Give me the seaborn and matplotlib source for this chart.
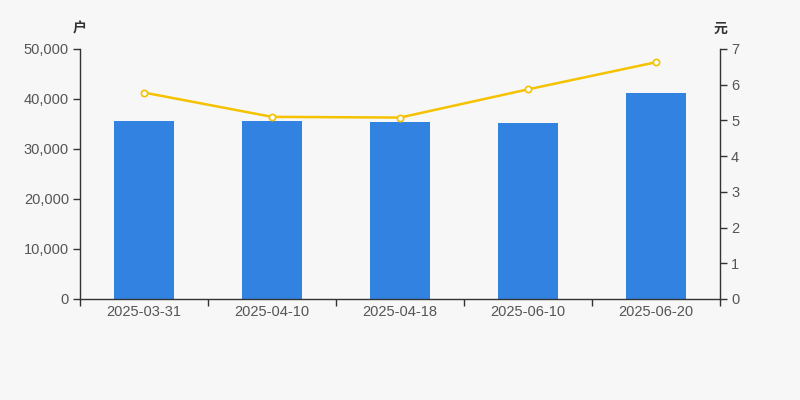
import matplotlib
matplotlib.use("Agg")
import matplotlib.pyplot as plt
from matplotlib.ticker import FixedLocator, NullFormatter, FuncFormatter, MultipleLocator
import seaborn as sns
import pandas as pd

dates = ["2025-03-31", "2025-04-10", "2025-04-18", "2025-06-10", "2025-06-20"]
holders = [35650, 35550, 35350, 35150, 41250]
price = [5.78, 5.10, 5.08, 5.87, 6.63]

bg = "#f7f7f7"
bar_color = "#3282e2"
line_color = "#f5c200"
axis_color = "#333333"
text_color = "#555555"

sns.set_theme(style="white")
plt.rcParams["font.family"] = ["Liberation Sans", "Noto Sans CJK SC", "DejaVu Sans"]

df = pd.DataFrame({"date": dates, "holders": holders, "price": price})

fig = plt.figure(figsize=(8, 4), dpi=100, facecolor=bg)
ax = fig.add_axes([0.1, 0.2525, 0.8, 0.625])
ax.set_facecolor(bg)

sns.barplot(data=df, x="date", y="holders", color=bar_color, width=60 / 128,
            saturation=1, linewidth=0, ax=ax)
ax.set_xlim(-0.5, len(dates) - 0.5)
ax.set_ylim(0, 50000)
ax.yaxis.set_major_locator(MultipleLocator(10000))
ax.yaxis.set_major_formatter(FuncFormatter(lambda v, p: f"{int(v):,}"))
ax.set_xlabel("")
ax.set_ylabel("")

ax2 = ax.twinx()
ax2.set_facecolor("none")
sns.lineplot(data=df, x="date", y="price", color=line_color, linewidth=1.8,
             marker="o", markersize=4.5, markerfacecolor="white",
             markeredgecolor=line_color, markeredgewidth=1.2, sort=False, ax=ax2)
ax2.set_ylim(0, 7)
ax2.yaxis.set_major_locator(MultipleLocator(1))
ax2.set_ylabel("")
ax2.set_xlabel("")
ax2.set_xlim(-0.5, len(dates) - 0.5)

# x ticks at category boundaries, labels at centres
ax.xaxis.set_major_locator(FixedLocator([i - 0.5 for i in range(len(dates) + 1)]))
ax.xaxis.set_major_formatter(NullFormatter())
ax.xaxis.set_minor_locator(FixedLocator(list(range(len(dates)))))
ax.set_xticklabels(dates, minor=True)
ax.tick_params(axis="x", which="major", length=5, width=1, color=axis_color,
               direction="out", bottom=True)
ax.tick_params(axis="x", which="minor", length=0, labelsize=10.5, labelcolor=text_color, pad=4)
ax.tick_params(axis="y", length=5, width=1, color=axis_color, direction="out",
               left=True, labelsize=10.5, labelcolor=text_color, pad=3)
ax2.tick_params(axis="y", length=5, width=1, color=axis_color, direction="out",
                right=True, labelsize=10.5, labelcolor=text_color, pad=3)

for a in (ax, ax2):
    a.spines["top"].set_visible(False)
    for s in ("left", "right", "bottom"):
        a.spines[s].set_color(axis_color)
        a.spines[s].set_linewidth(1)
ax.spines["right"].set_visible(False)
ax2.spines["left"].set_visible(False)
ax2.spines["bottom"].set_visible(False)
ax.grid(False)
ax2.grid(False)

fig.text(80 / 800, 1 - 29 / 400, "户", ha="center", va="center", fontsize=10,
         fontweight="bold", color=axis_color, family=["Noto Sans CJK SC", "DejaVu Sans"])
fig.text(720 / 800, 1 - 29 / 400, "元", ha="center", va="center", fontsize=10,
         fontweight="bold", color=axis_color, family=["Noto Sans CJK SC", "DejaVu Sans"])

fig.savefig("out.png", dpi=100, facecolor=bg)
